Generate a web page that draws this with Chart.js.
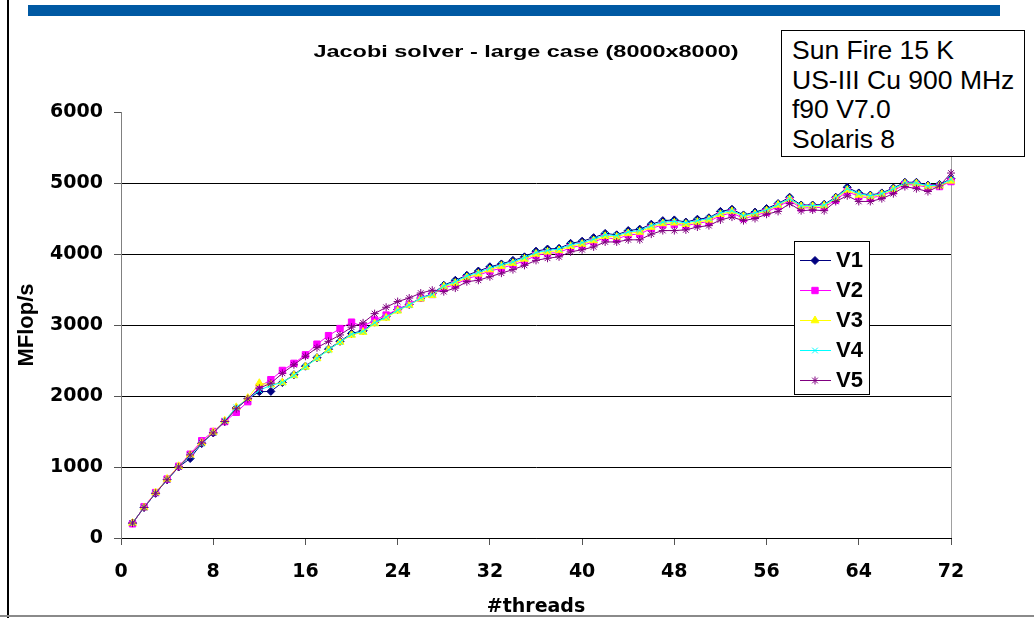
<!DOCTYPE html>
<html>
<head>
<meta charset="utf-8">
<script src="https://cdn.jsdelivr.net/npm/chart.js@4.4.1/dist/chart.umd.min.js"></script>
<style>
  html, body { margin: 0; padding: 0; background: #fff; overflow: hidden; }
  #wrap { position: relative; width: 1034px; height: 618px; }
  #chart { display: block; }
  #infoBox {
    position: absolute; left: 781px; top: 30px; width: 244px; height: 127px;
    box-sizing: border-box; border: 1px solid #000; background: #fff;
    font: 26.5px "Liberation Sans", Arial, sans-serif; line-height: 29.5px;
    padding: 5px 0 0 10px; color: #000; white-space: nowrap; overflow: hidden;
  }
</style>
</head>
<body>
<div id="wrap">
  <canvas id="chart" width="1034" height="618"></canvas>
  <div id="infoBox">Sun Fire 15 K<br>US-III Cu 900 MHz<br>f90 V7.0<br>Solaris 8</div>
</div>
<script>
// Jacobi solver - large case, MFlop/s per number of threads
const chartTitle = "Jacobi solver - large case (8000x8000)";

const threads = [
  1, 2, 3, 4, 5, 6, 7, 8, 9, 10, 11, 12, 13, 14, 15, 16, 17, 18,
  19, 20, 21, 22, 23, 24, 25, 26, 27, 28, 29, 30, 31, 32, 33, 34, 35, 36,
  37, 38, 39, 40, 41, 42, 43, 44, 45, 46, 47, 48, 49, 50, 51, 52, 53, 54,
  55, 56, 57, 58, 59, 60, 61, 62, 63, 64, 65, 66, 67, 68, 69, 70, 71, 72,
];

const v1 = [
  210, 430, 630, 820, 1000, 1120, 1330, 1480, 1640, 1830,
  1960, 2060, 2065, 2190, 2300, 2420, 2540, 2660, 2770, 2880,
  2920, 3040, 3120, 3220, 3290, 3380, 3440, 3560, 3630, 3700,
  3760, 3820, 3860, 3910, 3960, 4040, 4070, 4080, 4150, 4180,
  4230, 4290, 4270, 4330, 4350, 4420, 4470, 4480, 4450, 4490,
  4510, 4600, 4630, 4550, 4590, 4640, 4710, 4800, 4690, 4690,
  4700, 4800, 4940, 4860, 4830, 4860, 4930, 5010, 5010, 4970, 4980, 5060,
];
const v2 = [
  200, 440, 640, 830, 1010, 1180, 1370, 1500, 1640, 1770,
  1920, 2130, 2230, 2360, 2460, 2580, 2730, 2850, 2950, 3040,
  2980, 3070, 3140, 3220, 3290, 3380, 3430, 3520, 3570, 3650,
  3700, 3760, 3800, 3850, 3900, 3980, 4010, 4020, 4090, 4120,
  4170, 4230, 4210, 4270, 4280, 4360, 4410, 4420, 4400, 4430,
  4460, 4540, 4580, 4500, 4540, 4590, 4670, 4750, 4650, 4650,
  4660, 4760, 4880, 4810, 4790, 4820, 4890, 4980, 4970, 4940, 4950, 5020,
];
const v3 = [
  210, 430, 640, 830, 1010, 1170, 1340, 1490, 1650, 1840,
  1970, 2180, 2160, 2190, 2290, 2410, 2530, 2650, 2760, 2860,
  2900, 3020, 3100, 3200, 3280, 3370, 3420, 3540, 3590, 3670,
  3720, 3780, 3830, 3870, 3930, 4000, 4030, 4050, 4110, 4140,
  4190, 4250, 4240, 4290, 4310, 4380, 4430, 4440, 4420, 4450,
  4480, 4560, 4600, 4530, 4560, 4610, 4690, 4770, 4670, 4670,
  4680, 4780, 4900, 4830, 4810, 4840, 4910, 4990, 4990, 4950, 4960, 5030,
];
const v4 = [
  210, 430, 630, 820, 1000, 1160, 1330, 1480, 1650, 1840,
  1960, 2080, 2150, 2190, 2290, 2410, 2530, 2650, 2760, 2870,
  2910, 3030, 3110, 3210, 3280, 3380, 3430, 3550, 3610, 3690,
  3740, 3800, 3850, 3890, 3950, 4020, 4050, 4070, 4130, 4160,
  4210, 4270, 4260, 4310, 4330, 4400, 4450, 4460, 4440, 4470,
  4500, 4580, 4610, 4540, 4580, 4620, 4700, 4780, 4680, 4680,
  4690, 4790, 4920, 4850, 4820, 4850, 4920, 5000, 5000, 4960, 4970, 5050,
];
const v5 = [
  210, 430, 630, 820, 1000, 1170, 1340, 1480, 1640, 1820,
  1960, 2110, 2180, 2320, 2440, 2560, 2680, 2770, 2860, 2970,
  3030, 3160, 3250, 3330, 3380, 3450, 3490, 3470, 3520, 3610,
  3630, 3680, 3730, 3780, 3840, 3910, 3940, 3960, 4030, 4060,
  4100, 4170, 4170, 4200, 4200, 4280, 4330, 4330, 4340, 4380,
  4400, 4480, 4520, 4470, 4500, 4560, 4600, 4710, 4610, 4620,
  4610, 4740, 4820, 4740, 4740, 4780, 4850, 4950, 4920, 4880, 4960, 5140,
];

function points(values) {
  return threads.map((t, i) => ({ x: t, y: values[i] }));
}

function series(label, values, color, style, radius, order) {
  return {
    label: label,
    data: points(values),
    borderColor: color,
    backgroundColor: color,
    borderWidth: 1,
    pointStyle: style,
    pointRadius: radius,
    pointBackgroundColor: color,
    pointBorderColor: color,
    pointBorderWidth: 1,
    tension: 0,
    clip: false,
    order: order,
  };
}

// frame, title bar, chart title and floating legend
const decorations = {
  id: "decorations",
  beforeDraw(chart) {
    const ctx = chart.ctx;
    const area = chart.chartArea;
    ctx.save();
    ctx.fillStyle = "#fff";
    ctx.fillRect(0, 0, chart.width, chart.height);
    ctx.fillStyle = "#0059a3";
    ctx.fillRect(28, 5, 972, 11);
    ctx.fillStyle = "#000";
    ctx.fillRect(7, 0, 2, chart.height);
    ctx.fillStyle = "#8a8a8a";
    ctx.fillRect(0, 615, chart.width, 2);
    ctx.strokeStyle = "#a0a0a0";
    ctx.lineWidth = 1;
    ctx.beginPath();
    ctx.moveTo(area.right + 0.5, area.top);
    ctx.lineTo(area.right + 0.5, area.bottom);
    ctx.stroke();
    ctx.fillStyle = "#000";
    ctx.font = "bold 17px 'Liberation Sans', Arial, sans-serif";
    ctx.textAlign = "center";
    ctx.textBaseline = "middle";
    ctx.translate(526, 52);
    ctx.scale(1.38, 1);
    ctx.fillText(chartTitle, 0, 0);
    ctx.restore();
  },
  afterDraw(chart) {
    const ctx = chart.ctx;
    ctx.save();
    ctx.fillStyle = "#fff";
    ctx.fillRect(794, 241, 75, 153);
    ctx.strokeStyle = "#000";
    ctx.lineWidth = 1;
    ctx.strokeRect(794.5, 241.5, 75, 153);
    chart.data.datasets.forEach((ds, i) => {
      const y = 260 + i * 30;
      ctx.strokeStyle = ds.borderColor;
      ctx.lineWidth = 1;
      ctx.beginPath();
      ctx.moveTo(800, y + 0.5);
      ctx.lineTo(831, y + 0.5);
      ctx.stroke();
      ctx.fillStyle = ds.pointBackgroundColor;
      ctx.strokeStyle = ds.pointBorderColor;
      ctx.lineWidth = ds.pointBorderWidth;
      Chart.helpers.drawPoint(ctx, {
        pointStyle: ds.pointStyle,
        radius: ds.pointRadius,
        rotation: 0,
        borderWidth: ds.pointBorderWidth,
      }, 815, y + 0.5);
      ctx.fillStyle = "#000";
      ctx.font = "bold 22px 'Liberation Sans', Arial, sans-serif";
      ctx.textAlign = "left";
      ctx.textBaseline = "middle";
      ctx.fillText(ds.label, 836, y + 1);
    });
    ctx.restore();
  },
};

const tickFont = { family: "'DejaVu Sans', sans-serif", size: 19, weight: "bold" };

const jacobiChart = new Chart(document.getElementById("chart").getContext("2d"), {
  type: "line",
  data: {
    datasets: [
      series("V1", v1, "#000080", "rectRot", 4, 5),
      series("V2", v2, "#ff00ff", "rect", 4.5, 4),
      series("V3", v3, "#ffff00", "triangle", 4.5, 3),
      series("V4", v4, "#00ffff", "crossRot", 4, 2),
      series("V5", v5, "#800080", "star", 4, 1),
    ],
  },
  options: {
    responsive: false,
    animation: false,
    devicePixelRatio: 1,
    events: [],
    layout: {
      padding: { left: 0, right: 83, top: 112, bottom: 0 },
    },
    plugins: {
      legend: { display: false },
      title: { display: false },
      tooltip: { enabled: false },
    },
    scales: {
      x: {
        type: "linear",
        min: 0,
        max: 72,
        afterFit: (scale) => { scale.height = 80; },
        ticks: { stepSize: 8, color: "#000", font: tickFont, padding: 16, maxRotation: 0 },
        grid: { drawOnChartArea: false, drawTicks: true, tickLength: 7, tickColor: "#555" },
        border: { color: "#000", width: 1 },
        title: {
          display: true,
          text: "#threads",
          color: "#000",
          font: tickFont,
          padding: { top: 0, bottom: 0 },
        },
      },
      y: {
        min: 0,
        max: 6000,
        afterFit: (scale) => { scale.width = 121; },
        ticks: {
          stepSize: 1000,
          color: "#000",
          font: tickFont,
          padding: 11,
          callback: (value) => String(value),
        },
        grid: {
          color: (ctx) => (ctx.tick && ctx.tick.value === 6000 ? "rgba(0,0,0,0)" : "#000"),
          tickColor: "#555",
          tickLength: 7,
          lineWidth: 1,
        },
        border: { color: "#808080", width: 1 },
        title: {
          display: true,
          text: "MFlop/s",
          color: "#000",
          font: { family: "'Liberation Sans', Arial, sans-serif", size: 22, weight: "bold" },
          padding: { top: 14, bottom: 0 },
        },
      },
    },
  },
  plugins: [decorations],
});
</script>
</body>
</html>
